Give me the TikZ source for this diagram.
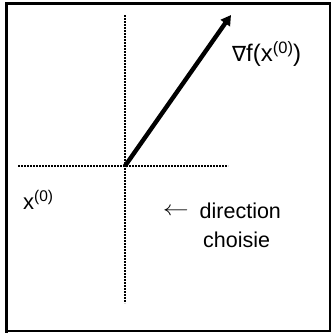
\documentclass[tikz,border=0pt]{standalone}
\usepackage{fontspec}
\setmainfont{Liberation Sans}
\newfontfamily\dejavu{DejaVu Sans}
\usetikzlibrary{arrows.meta}
\newcommand{\supzero}{\raisebox{7.5pt}{\fontsize{15.5}{16}\selectfont(0)}}
\newcommand{\supzerobig}{\raisebox{8pt}{\fontsize{16.5}{17}\selectfont(0)}}
\begin{document}
\begin{tikzpicture}[x=1pt,y=-1pt,
  axis/.style={dash pattern=on 2pt off 1pt, line width=1.4pt},
  lbl/.style={inner sep=0pt, font=\fontsize{22}{26}\selectfont},
  lblbig/.style={inner sep=0pt, font=\fontsize{24}{28}\selectfont},
  lbltext/.style={inner sep=0pt, font=\fontsize{21.5}{26}\selectfont},
  grad/.style={line width=4.4pt, -{Triangle[length=10pt,width=11pt]}}]
\useasboundingbox (0,0) rectangle (331,333);
% frame
\draw[line width=3pt] (6.5,333) -- (6.5,3.5) -- (331,3.5);
\draw[line width=1.5pt] (6.5,331.2) -- (330.2,331.2) -- (330.2,3.5);
% axes
\coordinate (O) at (125,166);
\coordinate (L) at (18,166);
\coordinate (R) at (228,166);
\coordinate (T) at (125,15);
\coordinate (B) at (125,303);
\coordinate (G) at (231,15);
\draw[axis] (L) -- (R);
\draw[axis] (T) -- (B);
\draw[grad] (O) -- (G);
% labels
\node[lblbig, anchor=base west] (gl) at (232,61.5) {{\dejavu\fontsize{21}{24}\selectfont ∇}f(x\supzerobig)};
\node[lbl, anchor=base west] (x0) at (23,209) {x\supzero};
\node[lbltext, anchor=base west] (dir) at (199.5,218) {direction};
\node[lbltext, anchor=base east] (arr) at (189,218) {\raisebox{2.5pt}{\scalebox{1.25}[1]{$\leftarrow$}}};
\node[lbltext, anchor=base west] (ch) at (203,247) {choisie};
\end{tikzpicture}
\end{document}
